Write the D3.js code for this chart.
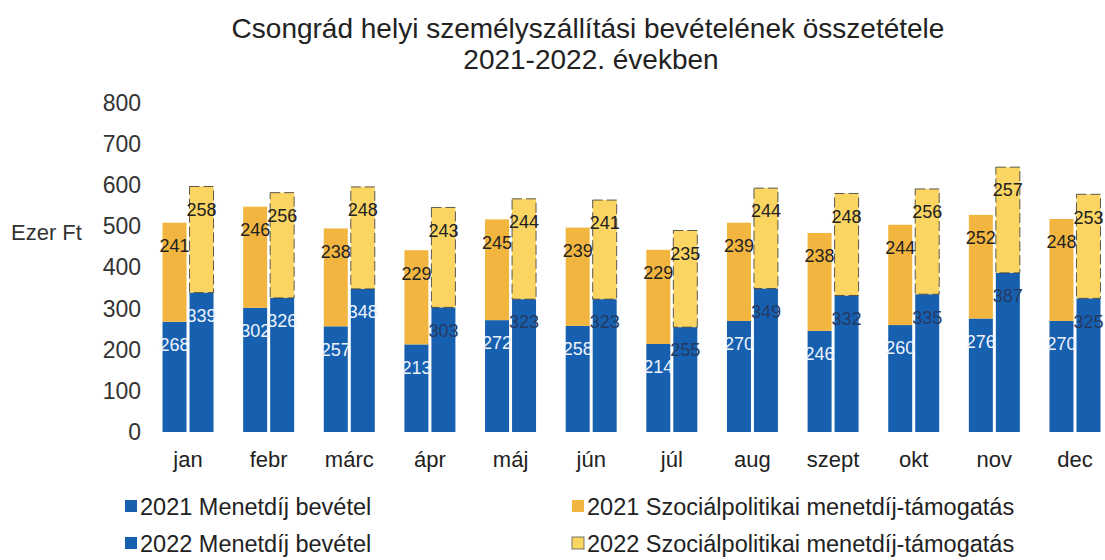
<!DOCTYPE html>
<html>
<head>
<meta charset="utf-8">
<script src="https://cdn.jsdelivr.net/npm/d3@7"></script>
<style>
  body { margin: 0; background: #fff; }
  svg { font-family: "Liberation Sans", Arial, sans-serif; }
</style>
</head>
<body>
<svg width="1105" height="560"></svg>
<script>
const months = ["jan", "febr", "márc", "ápr", "máj", "jún", "júl", "aug", "szept", "okt", "nov", "dec"];
const fare2021 = [268, 302, 257, 213, 272, 258, 214, 270, 246, 260, 276, 270];
const social2021 = [241, 246, 238, 229, 245, 239, 229, 239, 238, 244, 252, 248];
const fare2022 = [339, 326, 348, 303, 323, 323, 255, 349, 332, 335, 387, 325];
const social2022 = [258, 256, 248, 243, 244, 241, 235, 244, 248, 256, 257, 253];
const yTicks = [0, 100, 200, 300, 400, 500, 600, 700, 800];
const legendLabels = ["2021 Menetdíj bevétel", "2021 Szociálpolitikai menetdíj-támogatás",
                      "2022 Menetdíj bevétel", "2022 Szociálpolitikai menetdíj-támogatás"];

const blue = "#1760b0", orange = "#f2b640", yellow = "#fad562";

const svg = d3.select("svg");

// title
svg.append("text")
    .attr("x", 588).attr("y", 38)
    .attr("text-anchor", "middle")
    .attr("font-size", "28px")
    .attr("fill", "#222")
    .text("Csongrád helyi személyszállítási bevételének összetétele");
svg.append("text")
    .attr("x", 591).attr("y", 69)
    .attr("text-anchor", "middle")
    .attr("font-size", "28px")
    .attr("fill", "#222")
    .text("2021-2022. években");

const x = d3.scaleBand()
    .domain(months)
    .range([147.7, 1115.3]);

const y = d3.scaleLinear()
    .domain([0, 800])
    .range([432, 103]);

// y axis
const yAxis = svg.append("g")
    .attr("transform", "translate(141,0)")
    .call(d3.axisLeft(y).tickValues(yTicks).tickSize(0).tickPadding(0));
yAxis.select(".domain").remove();
yAxis.selectAll("text")
    .attr("font-size", "23px")
    .attr("font-family", "Liberation Sans, Arial, sans-serif")
    .attr("fill", "#333");

svg.append("text")
    .attr("x", 11).attr("y", 240)
    .attr("font-size", "22px")
    .attr("fill", "#333")
    .text("Ezer Ft");

// x axis
const xAxis = svg.append("g")
    .attr("transform", "translate(0,467)")
    .call(d3.axisBottom(x).tickSize(0).tickPadding(0));
xAxis.select(".domain").remove();
xAxis.selectAll("text")
    .attr("font-size", "22px")
    .attr("font-family", "Liberation Sans, Arial, sans-serif")
    .attr("fill", "#222")
    .attr("dy", "0");

const barW = 24, gap = 3;

const series = [
    {fare: fare2021, social: social2021, off: -barW - gap / 2, socialColor: orange},
    {fare: fare2022, social: social2022, off: gap / 2, socialColor: yellow}
];

series.forEach((s, si) => {
    const g = svg.append("g");
    months.forEach((m, i) => {
        const cx = x(m) + x.bandwidth() / 2;
        const bx = cx + s.off;
        const f = s.fare[i], so = s.social[i];
        g.append("rect")
            .attr("x", bx).attr("width", barW)
            .attr("y", y(f)).attr("height", y(0) - y(f))
            .attr("fill", blue);
        g.append("rect")
            .attr("x", bx).attr("width", barW)
            .attr("y", y(f + so)).attr("height", y(f) - y(f + so))
            .attr("fill", s.socialColor)
            .attr("stroke", si === 1 ? "#333" : "none")
            .attr("stroke-width", 0.8)
            .attr("stroke-dasharray", si === 1 ? "10,4" : null);
        // labels
        g.append("text")
            .attr("x", bx + barW / 2).attr("y", y(f) + 23)
            .attr("dy", "0.35em")
            .attr("text-anchor", "middle")
            .attr("font-size", "18px")
            .attr("fill", si === 0 || i < 3 ? "#eef3fb" : "#243a62")
            .text(f);
        g.append("text")
            .attr("x", bx + barW / 2).attr("y", y(f + so) + 23)
            .attr("dy", "0.35em")
            .attr("text-anchor", "middle")
            .attr("font-size", "18px")
            .attr("fill", "#222")
            .text(so);
    });
});

// legend
const legendColors = [blue, orange, blue, yellow];
const legend = svg.append("g");
legendLabels.forEach((lab, i) => {
    const lx = i % 2 === 0 ? 125 : 572;
    const ly = i < 2 ? 515 : 552;
    legend.append("rect")
        .attr("x", lx).attr("y", ly - 15)
        .attr("width", 12).attr("height", 12)
        .attr("fill", legendColors[i])
        .attr("stroke", i === 3 ? "#555" : "none")
        .attr("stroke-width", 0.8);
    legend.append("text")
        .attr("x", lx + 15).attr("y", ly)
        .attr("font-size", "23.5px")
        .attr("fill", "#222")
        .text(lab);
});
</script>
</body>
</html>
